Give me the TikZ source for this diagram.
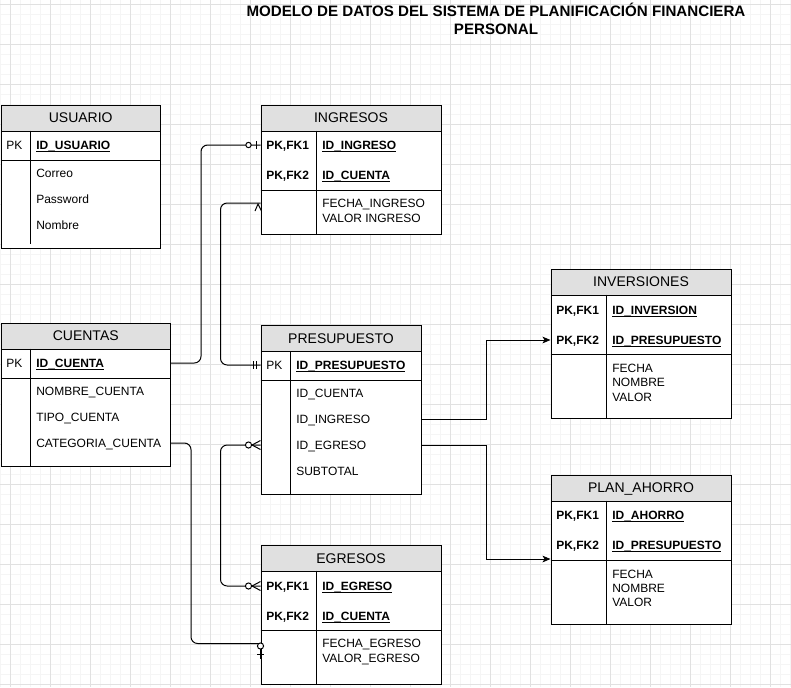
\documentclass[tikz,border=0pt]{standalone}
\usepackage{fontspec}
\setmainfont{Liberation Sans}
\usetikzlibrary{arrows.meta,calc}
\definecolor{hdr}{RGB}{224,224,224}
\definecolor{gmin}{RGB}{245,245,245}
\definecolor{gmaj}{RGB}{225,225,225}
\newcommand\keyul[1]{\setbox0\hbox{#1}\rlap{\rule[-1.8pt]{\wd0}{0.75pt}}\box0}
\newcommand\ertable[6]{%
  \node[tbl, minimum width=#4*0.75pt, minimum height=#5*0.75pt] (#1) at (#2,#3) {};
  \node[thead, minimum width=#4*0.75pt] (#1H) at (#2,#3) {#6};
}
\newcommand\zmany[1]{%
  \draw[mk] ($(#1)+(-8.5,0)$) -- ($(#1)+(0,-4.5)$) ($(#1)+(-8.5,0)$) -- ($(#1)+(0,4.5)$);
  \draw[mk, fill=white] ($(#1)+(-12,0)$) circle[radius=2.3pt];
}
\begin{document}
\begin{tikzpicture}[x=0.75pt,y=-0.75pt,
  ln/.style={line width=0.75pt},
  tbl/.style={draw, line width=0.75pt, fill=white, inner sep=0pt, anchor=north west},
  thead/.style={draw, line width=0.75pt, fill=hdr, inner sep=0pt, anchor=north west,
    minimum height=26*0.75pt, font=\fontsize{10.5}{12}\selectfont},
  txt/.style={inner sep=0pt, anchor=west, text height=6.45pt, text depth=0pt,
    font=\fontsize{9}{10.8}\selectfont},
  kb/.style={txt, font=\fontsize{9}{10.8}\selectfont\bfseries},
  rel/.style={line width=0.75pt, rounded corners=5pt},
  arr/.style={line width=0.75pt, -{Stealth[length=6pt,width=5pt,inset=1.5pt]}},
  mk/.style={line width=0.75pt}
]
\fill[white] (0,0) rectangle (791,687);
\useasboundingbox (0,0) rectangle (791,687);
% grid
\foreach \x in {0.3,10.3,...,790.3} \draw[gmin, line width=0.75pt] (\x,0) -- (\x,687);
\foreach \y in {4.3,14.3,...,686.3} \draw[gmin, line width=0.75pt] (0,\y) -- (791,\y);
\foreach \x in {10.3,50.3,...,790.3} \draw[gmaj, line width=0.75pt] (\x,0) -- (\x,687);
\foreach \y in {4.3,44.3,...,686.3} \draw[gmaj, line width=0.75pt] (0,\y) -- (791,\y);

% title
\node[font=\fontsize{11.35}{13.5}\selectfont\bfseries, align=center, inner sep=0pt] (title) at (496,18.5)
  {MODELO DE DATOS DEL SISTEMA DE PLANIFICACIÓN FINANCIERA\\PERSONAL};

% USUARIO
\ertable{usuario}{0.5}{104.5}{159.5}{143}{USUARIO}
\draw[ln] (0.5,160.5) -- (160,160.5);
\draw[ln] (30.5,130.5) -- (30.5,244);
\node[txt] (usuarioPK) at (6,145) {PK};
\node[kb] (usuarioId) at (36,145) {\keyul{ID\_USUARIO}};
\node[txt] (usuarioA1) at (36,173) {Correo};
\node[txt] (usuarioA2) at (36,199) {Password};
\node[txt] (usuarioA3) at (36,225) {Nombre};

% CUENTAS
\ertable{cuentas}{0.5}{322.5}{169.5}{143.5}{CUENTAS}
\draw[ln] (0.5,378.5) -- (170,378.5);
\draw[ln] (30.5,348.5) -- (30.5,466);
\node[txt] (cuentasPK) at (6,363) {PK};
\node[kb] (cuentasId) at (36,363) {\keyul{ID\_CUENTA}};
\node[txt] (cuentasA1) at (36,391) {NOMBRE\_CUENTA};
\node[txt] (cuentasA2) at (36,417) {TIPO\_CUENTA};
\node[txt] (cuentasCat) at (36,443) {CATEGORIA\_CUENTA};

% INGRESOS
\ertable{ingresos}{260.5}{104.5}{180}{129.5}{INGRESOS}
\draw[ln] (260.5,190.5) -- (440.5,190.5);
\draw[ln] (316.5,130.5) -- (316.5,234);
\node[kb] (ingresosK1) at (266,145) {PK,FK1};
\node[kb] (ingresosId1) at (322,145) {\keyul{ID\_INGRESO}};
\node[kb] (ingresosK2) at (266,175) {PK,FK2};
\node[kb] (ingresosId2) at (322,175) {\keyul{ID\_CUENTA}};
\node[txt] (ingresosA1) at (322,203) {FECHA\_INGRESO};
\node[txt] (ingresosA2) at (322,218) {VALOR INGRESO};

% PRESUPUESTO
\ertable{presup}{260.5}{325}{160}{168.5}{PRESUPUESTO}
\draw[ln] (260.5,380.5) -- (420.5,380.5);
\draw[ln] (290.5,351) -- (290.5,493.5);
\node[txt] (presupPK) at (266,365) {PK};
\node[kb] (presupId) at (296,365) {\keyul{ID\_PRESUPUESTO}};
\node[txt] (presupCU) at (296,393) {ID\_CUENTA};
\node[txt] (presupIN) at (296,419) {ID\_INGRESO};
\node[txt] (presupEG) at (296,445) {ID\_EGRESO};
\node[txt] (presupST) at (296,471) {SUBTOTAL};

% EGRESOS
\ertable{egresos}{260.5}{545}{180}{139}{EGRESOS}
\draw[ln] (260.5,630.5) -- (440.5,630.5);
\draw[ln] (316.5,570.5) -- (316.5,684);
\node[kb] (egresosK1) at (266,586) {PK,FK1};
\node[kb] (egresosId1) at (322,586) {\keyul{ID\_EGRESO}};
\node[kb] (egresosK2) at (266,616) {PK,FK2};
\node[kb] (egresosId2) at (322,616) {\keyul{ID\_CUENTA}};
\node[txt] (egresosA1) at (322,643.5) {FECHA\_EGRESO};
\node[txt] (egresosA2) at (322,658) {VALOR\_EGRESO};

% INVERSIONES
\ertable{inver}{550.5}{268.5}{180}{149}{INVERSIONES}
\draw[ln] (550.5,354.5) -- (730.5,354.5);
\draw[ln] (606.5,294.5) -- (606.5,417.5);
\node[kb] (inverK1) at (556,310) {PK,FK1};
\node[kb] (inverId1) at (612,310) {\keyul{ID\_INVERSION}};
\node[kb] (inverK2) at (556,340) {PK,FK2};
\node[kb] (inverId2) at (612,340) {\keyul{ID\_PRESUPUESTO}};
\node[txt] (inverA1) at (612,368) {FECHA};
\node[txt] (inverA2) at (612,382.5) {NOMBRE};
\node[txt] (inverA3) at (612,397) {VALOR};

% PLAN_AHORRO
\ertable{plan}{550.5}{475}{180}{149}{PLAN\_AHORRO}
\draw[ln] (550.5,560.5) -- (730.5,560.5);
\draw[ln] (606.5,500.5) -- (606.5,624);
\node[kb] (planK1) at (556,515) {PK,FK1};
\node[kb] (planId1) at (612,515) {\keyul{ID\_AHORRO}};
\node[kb] (planK2) at (556,545) {PK,FK2};
\node[kb] (planId2) at (612,545) {\keyul{ID\_PRESUPUESTO}};
\node[txt] (planA1) at (612,574) {FECHA};
\node[txt] (planA2) at (612,588) {NOMBRE};
\node[txt] (planA3) at (612,602) {VALOR};
\coordinate (planIn) at (550.5,559);

% connectors
% C1 CUENTAS -> INGRESOS
\coordinate (m1) at (ingresos.west |- ingresosK1);
\draw[rel] (cuentas.east |- cuentasPK) -- ++(30,0) |- (m1);
\draw[mk] ($(m1)+(-4,-4)$) -- ($(m1)+(-4,4)$);
\draw[mk, fill=white] ($(m1)+(-12,0)$) circle[radius=2pt];

% C2 PRESUPUESTO -> INGRESOS
\coordinate (m2) at (presup.west |- presupPK);
\coordinate (m3) at (ingresos.west |- ingresosA1);
\draw[rel] (m2) -- ++(-40,0) |- (m3);
\draw[mk] ($(m2)+(-7,-4)$) -- ($(m2)+(-7,4)$);
\draw[mk] ($(m2)+(-4,-4)$) -- ($(m2)+(-4,4)$);
\draw[mk] ($(m3)+(-5.5,8)$) -- ($(m3)+(-2.5,1)$) -- ($(m3)+(1,8)$);

% C3 PRESUPUESTO <-> EGRESOS
\coordinate (m5) at (presup.west |- presupEG);
\coordinate (m6) at (egresos.west |- egresosK1);
\draw[rel] (m5) -- ++(-40,0) |- (m6);
\zmany{m5}
\zmany{m6}

% C4 CUENTAS -> EGRESOS
\coordinate (m4) at (egresos.west |- egresosA1);
\draw[rel] (cuentas.east |- cuentasCat) -- ++(20,0) |- (m4);
\draw[mk] ($(m4)+(0,5)$) -- ($(m4)+(0,15)$);
\draw[mk] ($(m4)+(-3.5,11)$) -- ($(m4)+(3.5,11)$);
\draw[mk, fill=white] ($(m4)+(0,2.5)$) circle[radius=2.3pt];

% C5 PRESUPUESTO -> INVERSIONES
\draw[arr] (presup.east |- presupIN) -- ++(65,0) |- (inver.west |- inverK2);
% C6 PRESUPUESTO -> PLAN_AHORRO
\draw[arr] (presup.east |- presupEG) -- ++(65,0) |- (planIn);
\end{tikzpicture}
\end{document}
